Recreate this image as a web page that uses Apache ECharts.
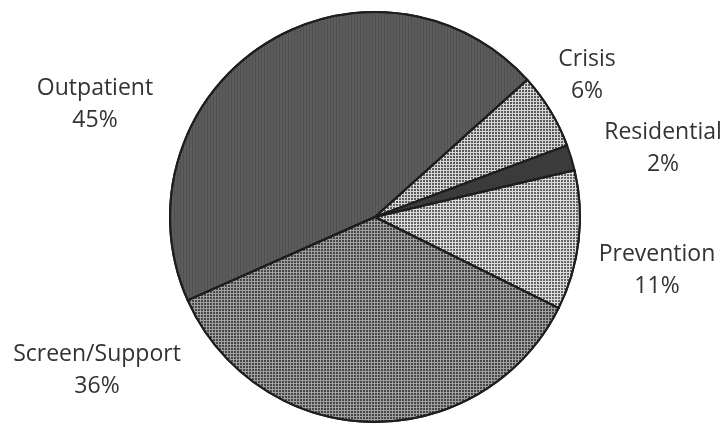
<!DOCTYPE html>
<html>
<head>
<meta charset="utf-8">
<script src="https://cdn.jsdelivr.net/npm/echarts@6/dist/echarts.min.js"></script>
<style>
html,body{margin:0;padding:0;background:#fff;}
#chart{width:726px;height:427px;}
</style>
</head>
<body>
<div id="chart"></div>
<script>
const categories = ['Outpatient', 'Crisis', 'Residential', 'Prevention', 'Screen/Support'];
const shares = [45, 6, 2, 11, 36];

const sliceStyles = [
  { color: '#5c5c5c', decal: { symbol: 'rect', symbolSize: 1, dashArrayX: [1, 2], dashArrayY: [3, 0], color: 'rgba(0,0,0,0.12)' } },
  { color: '#d6d6d6', decal: { symbol: 'circle', symbolSize: 1, dashArrayX: [2, 1], dashArrayY: [2, 1], color: 'rgba(20,20,20,0.85)' } },
  { color: '#3b3b3b' },
  { color: '#dcdcdc', decal: { symbol: 'circle', symbolSize: 1, dashArrayX: [2, 1], dashArrayY: [2, 1], color: 'rgba(20,20,20,0.8)' } },
  { color: '#a0a0a0', decal: { symbol: 'circle', symbolSize: 1, dashArrayX: [2, 1], dashArrayY: [2, 1], color: 'rgba(20,20,20,0.85)' } }
];
const labelSpots = [[95, 104], [587, 75], [663, 148], [657, 270], [97, 370]];

const chart = echarts.init(document.getElementById('chart'), null, { renderer: 'canvas' });
chart.setOption({
  animation: false,
  backgroundColor: '#ffffff',
  series: [{
    type: 'pie',
    center: [375, 217],
    radius: 205,
    startAngle: 204,
    clockwise: true,
    silent: true,
    itemStyle: { borderColor: '#1e1e1e', borderWidth: 2 },
    label: {
      show: true,
      position: 'outside',
      formatter: p => p.name + '\n' + p.value + '%',
      fontFamily: 'Open Sans',
      fontSize: 23,
      lineHeight: 32,
      color: '#333333',
      align: 'center',
      overflow: 'none'
    },
    labelLine: { show: false },
    labelLayout: function (params) {
      const s = labelSpots[params.dataIndex];
      return { x: s[0], y: s[1], align: 'center', verticalAlign: 'middle' };
    },
    data: categories.map((c, i) => ({ name: c, value: shares[i], itemStyle: sliceStyles[i] }))
  }]
});
</script>
</body>
</html>
